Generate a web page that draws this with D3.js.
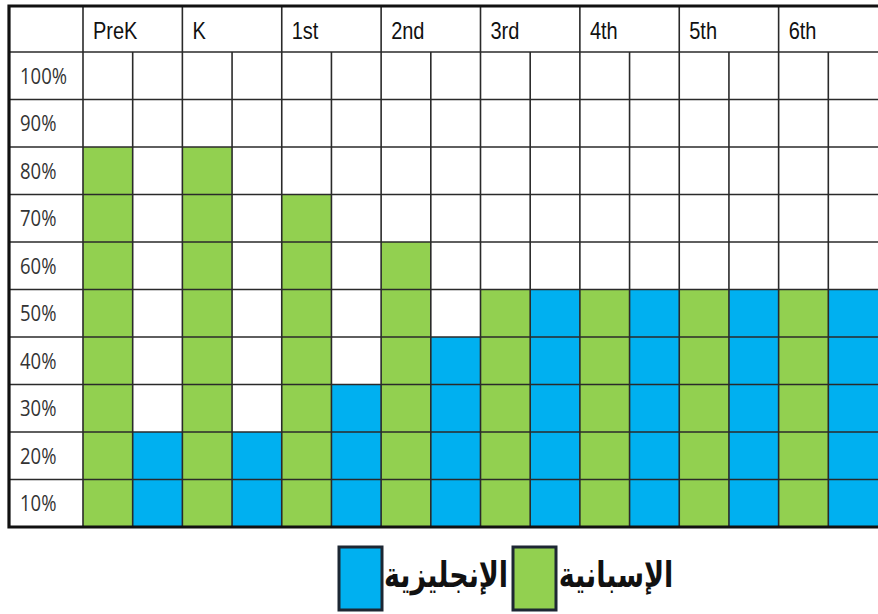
<!DOCTYPE html>
<html>
<head>
<meta charset="utf-8">
<script src="https://cdn.jsdelivr.net/npm/d3@7"></script>
<style>
  body { margin: 0; background: #fff; }
  svg { display: block; }
</style>
</head>
<body>
<svg id="chart" width="878" height="614"></svg>
<script>
// grades across the top
const grades = ["PreK", "K", "1st", "2nd", "3rd", "4th", "5th", "6th"];
// percent of instruction time in each language
const spanish = [80, 80, 70, 60, 50, 50, 50, 50];
const english = [20, 20, 30, 40, 50, 50, 50, 50];
const series = ["spanish", "english"];
const seriesLabels = ["الإسبانية", "الإنجليزية"];
const rowTicks = [100, 90, 80, 70, 60, 50, 40, 30, 20, 10];

const colors = { spanish: "#92D050", english: "#00B0F0" };
const gridColor = "#2a2a2a";

const svg = d3.select("#chart");

const tableLeft = 9, labelRight = 83, tableRight = 878;
const tableTop = 6, headerBottom = 52, tableBottom = 527;

const x = d3.scaleBand().domain(grades).range([labelRight, tableRight]);
const xSub = d3.scaleBand().domain(series).range([0, x.bandwidth()]);
const y = d3.scaleLinear().domain([0, 100]).range([tableBottom, headerBottom]);

// build rows for the cells
const cells = [];
grades.forEach((g, i) => {
    cells.push({ grade: g, key: "spanish", value: spanish[i] });
    cells.push({ grade: g, key: "english", value: english[i] });
});

svg.append("g")
    .selectAll("rect")
    .data(cells)
    .join("rect")
    .attr("x", d => x(d.grade) + xSub(d.key))
    .attr("width", xSub.bandwidth())
    .attr("y", d => y(d.value))
    .attr("height", d => y(0) - y(d.value))
    .attr("fill", d => colors[d.key]);

// grid
const grid = svg.append("g")
    .attr("stroke", gridColor)
    .attr("stroke-width", 1.6);

grid.selectAll("line.h")
    .data(d3.range(10, 100, 10).concat([100]))
    .join("line")
    .attr("class", "h")
    .attr("x1", tableLeft).attr("x2", tableRight)
    .attr("y1", d => y(d)).attr("y2", d => y(d));

grid.selectAll("line.g")
    .data(grades.slice(1))
    .join("line")
    .attr("class", "g")
    .attr("x1", d => x(d)).attr("x2", d => x(d))
    .attr("y1", tableTop).attr("y2", tableBottom);

grid.selectAll("line.s")
    .data(grades)
    .join("line")
    .attr("class", "s")
    .attr("x1", d => x(d) + xSub("english"))
    .attr("x2", d => x(d) + xSub("english"))
    .attr("y1", headerBottom).attr("y2", tableBottom);

grid.append("line")
    .attr("x1", labelRight).attr("x2", labelRight)
    .attr("y1", tableTop).attr("y2", tableBottom);

// outer border (right side runs off the page)
svg.append("path")
    .attr("d", `M${tableRight + 4},${tableTop} H${tableLeft} V${tableBottom} H${tableRight + 4}`)
    .attr("fill", "none")
    .attr("stroke", "#111")
    .attr("stroke-width", 3.2);

// grade headers
svg.append("g")
    .selectAll("text")
    .data(grades)
    .join("text")
    .attr("transform", d => `translate(${x(d) + 10},39) scale(1,1.2)`)
    .attr("font-family", "Liberation Sans, Arial, sans-serif")
    .attr("font-size", 20)
    .attr("fill", "#111")
    .text(d => d);

// row labels
svg.append("g")
    .selectAll("text")
    .data(rowTicks)
    .join("text")
    .attr("transform", d => `translate(20,${(y(d) + y(d - 10)) / 2 + 8}) scale(1,1.15)`)
    .attr("font-family", "Open Sans, sans-serif")
    .attr("font-size", 18.5)
    .attr("fill", "#333")
    .text(d => d + "%");

// legend
const legendItems = [
    { key: "english", label: seriesLabels[1], box: 339, text: 446 },
    { key: "spanish", label: seriesLabels[0], box: 513, text: 616 }
];
const legend = svg.append("g");
legend.selectAll("rect")
    .data(legendItems)
    .join("rect")
    .attr("x", d => d.box)
    .attr("y", 547)
    .attr("width", 43)
    .attr("height", 63)
    .attr("fill", d => colors[d.key])
    .attr("stroke", "#1d2733")
    .attr("stroke-width", 3);

legend.selectAll("text")
    .data(legendItems)
    .join("text")
    .attr("transform", d => `translate(${d.text},587) scale(1,1.3)`)
    .attr("text-anchor", "middle")
    .attr("font-family", "DejaVu Sans, sans-serif")
    .attr("font-weight", "bold")
    .attr("font-size", 27)
    .attr("fill", "#111")
    .text(d => d.label);
</script>
</body>
</html>
